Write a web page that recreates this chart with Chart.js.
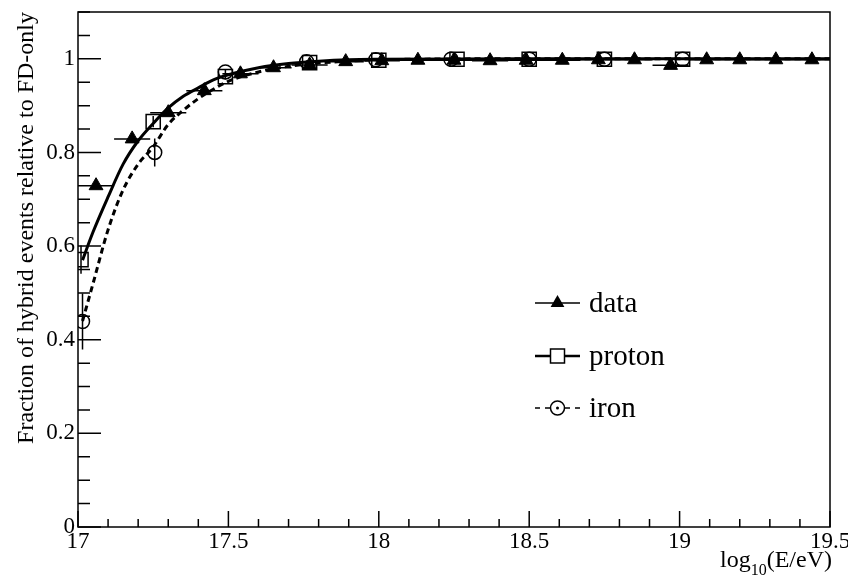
<!DOCTYPE html>
<html>
<head>
<meta charset="utf-8">
<script src="https://cdn.jsdelivr.net/npm/chart.js@4.4.1/dist/chart.umd.min.js"></script>
<style>
	html, body { margin: 0; padding: 0; background: #fff; }
	#wrap { width: 848px; height: 579px; }
</style>
</head>
<body>
<div id="wrap"><canvas id="effChart"></canvas></div>
<script>
// measured points
const dataX = [17.06, 17.18, 17.30, 17.42, 17.54, 17.65, 17.77, 17.89, 18.01, 18.13, 18.25,
	18.37, 18.49, 18.61, 18.73, 18.85, 18.97, 19.09, 19.20, 19.32, 19.44];
const dataY = [0.729, 0.829, 0.885, 0.932, 0.968, 0.981, 0.987, 0.994, 0.996, 0.997, 0.997,
	0.996, 0.997, 0.997, 0.998, 0.998, 0.986, 0.998, 0.998, 0.998, 0.998];
const dataXErr = [0.06, 0.06, 0.06, 0.06, 0.06, 0.06, 0.06, 0.06, 0.06, 0.06, 0.06,
	0.06, 0.06, 0.06, 0.06, 0.06, 0.06, 0.06, 0.06, 0.06, 0.06];

// simulation points
const protonX = [17.01, 17.25, 17.49, 17.77, 18.00, 18.26, 18.50, 18.75, 19.01];
const protonY = [0.571, 0.866, 0.962, 0.992, 0.997, 0.999, 0.999, 0.999, 0.999];
const protonYErr = [0.03, 0.012, 0.006, 0.003, 0.002, 0.001, 0.001, 0.001, 0.001];
const ironX = [17.015, 17.255, 17.49, 17.76, 17.99, 18.24, 18.50, 18.75, 19.01];
const ironY = [0.439, 0.800, 0.972, 0.994, 0.998, 0.999, 0.999, 0.999, 0.999];
const ironYErr = [0.06, 0.03, 0.006, 0.003, 0.002, 0.001, 0.001, 0.001, 0.001];

// fitted curves
const protonFitX = [17.015, 17.05, 17.1, 17.15, 17.2, 17.25, 17.3, 17.35, 17.4, 17.45, 17.5,
	17.6, 17.7, 17.8, 17.9, 18.0, 18.5, 19.0, 19.5];
const protonFitY = [0.57, 0.63, 0.705, 0.775, 0.825, 0.862, 0.895, 0.92, 0.938, 0.955, 0.966,
	0.981, 0.99, 0.995, 0.998, 0.999, 1.0, 1.0, 1.0];
const ironFitX = [17.015, 17.05, 17.1, 17.15, 17.2, 17.25, 17.3, 17.35, 17.4, 17.45, 17.5,
	17.6, 17.7, 17.8, 17.9, 18.0, 18.5, 19.0, 19.5];
const ironFitY = [0.44, 0.52, 0.635, 0.72, 0.775, 0.812, 0.86, 0.89, 0.915, 0.935, 0.952,
	0.972, 0.984, 0.991, 0.995, 0.998, 1.0, 1.0, 1.0];

const legendNames = ['data', 'proton', 'iron'];

const toPts = (xs, ys) => xs.map((x, i) => ({x: x, y: ys[i]}));
const serif = '"Liberation Serif", "DejaVu Serif", serif';

Chart.defaults.color = '#000';
Chart.defaults.font.family = serif;

// error bars, drawn under the markers
const errorBars = {
	id: 'errorBars',
	beforeDatasetsDraw(chart) {
		const ctx = chart.ctx;
		const xs = chart.scales.x, ys = chart.scales.y;
		ctx.save();
		ctx.strokeStyle = '#000';
		ctx.lineWidth = 1.5;
		ctx.beginPath();
		dataX.forEach((x, i) => {
			const py = ys.getPixelForValue(dataY[i]);
			ctx.moveTo(xs.getPixelForValue(x - dataXErr[i]), py);
			ctx.lineTo(xs.getPixelForValue(x + dataXErr[i]), py);
		});
		[[protonX, protonY, protonYErr], [ironX, ironY, ironYErr]].forEach(([X, Y, E]) => {
			X.forEach((x, i) => {
				const px = xs.getPixelForValue(x);
				ctx.moveTo(px, ys.getPixelForValue(Y[i] - E[i]));
				ctx.lineTo(px, ys.getPixelForValue(Y[i] + E[i]));
			});
		});
		ctx.stroke();
		ctx.restore();
	}
};

// frame, inward ticks, x title, legend
const frame = {
	id: 'frame',
	afterDraw(chart) {
		const ctx = chart.ctx;
		const a = chart.chartArea;
		const xs = chart.scales.x, ys = chart.scales.y;
		ctx.save();
		ctx.strokeStyle = '#000';
		ctx.lineWidth = 1.5;
		ctx.strokeRect(a.left, a.top, a.right - a.left, a.bottom - a.top);
		ctx.beginPath();
		for (let k = 0; k <= 25; k++) {
			const v = 17 + k * 0.1;
			const px = xs.getPixelForValue(v);
			const len = k % 5 === 0 ? 16 : 8;
			ctx.moveTo(px, a.bottom);
			ctx.lineTo(px, a.bottom - len);
		}
		for (let k = 0; k <= 22; k++) {
			const v = k * 0.05;
			const py = ys.getPixelForValue(v);
			const len = k % 4 === 0 ? 23 : 12;
			ctx.moveTo(a.left, py);
			ctx.lineTo(a.left + len, py);
		}
		ctx.stroke();

		// x title with subscript
		ctx.fillStyle = '#000';
		ctx.textBaseline = 'alphabetic';
		ctx.textAlign = 'left';
		const big = '24px ' + serif, small = '16px ' + serif;
		ctx.font = big;
		const w1 = ctx.measureText('log').width, w3 = ctx.measureText('(E/eV)').width;
		ctx.font = small;
		const w2 = ctx.measureText('10').width;
		let tx = a.right + 2 - (w1 + w2 + w3);
		const base = 567;
		ctx.font = big;
		ctx.fillText('log', tx, base);
		ctx.font = small;
		ctx.fillText('10', tx + w1, base + 8);
		ctx.font = big;
		ctx.fillText('(E/eV)', tx + w1 + w2, base);

		// legend
		const rows = [303, 356, 408];
		const x0 = 535, x1 = 580, xm = 557.5;
		ctx.font = '29px ' + serif;
		ctx.textBaseline = 'middle';
		rows.forEach((ry, i) => {
			ctx.beginPath();
			ctx.lineWidth = i === 1 ? 2.5 : 1.5;
			ctx.setLineDash(i === 2 ? [5, 5] : []);
			ctx.moveTo(x0, ry);
			ctx.lineTo(x1, ry);
			ctx.stroke();
			ctx.setLineDash([]);
			ctx.lineWidth = 1.5;
			if (i === 0) {
				ctx.beginPath();
				ctx.moveTo(xm, ry - 8);
				ctx.lineTo(xm + 6.9, ry + 4);
				ctx.lineTo(xm - 6.9, ry + 4);
				ctx.closePath();
				ctx.fill();
			} else if (i === 1) {
				ctx.fillStyle = '#fff';
				ctx.fillRect(xm - 7, ry - 7, 14, 14);
				ctx.strokeRect(xm - 7, ry - 7, 14, 14);
			} else {
				ctx.fillStyle = '#fff';
				ctx.beginPath();
				ctx.arc(xm, ry, 7, 0, Math.PI * 2);
				ctx.fill();
				ctx.stroke();
				ctx.fillStyle = '#000';
				ctx.beginPath();
				ctx.arc(xm, ry, 1.5, 0, Math.PI * 2);
				ctx.fill();
			}
			ctx.fillStyle = '#000';
			ctx.fillText(legendNames[i], 589, ry + 1);
		});
		ctx.restore();
	}
};

const config = {
	type: 'scatter',
	data: {
		datasets: [
			{
				label: legendNames[0],
				data: toPts(dataX, dataY),
				pointStyle: 'triangle',
				pointRadius: 8,
				backgroundColor: '#000',
				borderColor: '#000',
				borderWidth: 1,
				order: 0,
			},
			{
				label: legendNames[1],
				data: toPts(protonX, protonY),
				pointStyle: 'rect',
				pointRadius: 10,
				backgroundColor: 'rgba(0,0,0,0)',
				borderColor: '#000',
				borderWidth: 1.5,
				order: 1,
			},
			{
				label: legendNames[2],
				data: toPts(ironX, ironY),
				pointStyle: 'circle',
				pointRadius: 7,
				backgroundColor: 'rgba(0,0,0,0)',
				borderColor: '#000',
				borderWidth: 1.5,
				order: 2,
			},
			{
				type: 'line',
				label: 'proton fit',
				data: toPts(protonFitX, protonFitY),
				showLine: true,
				pointRadius: 0,
				borderColor: '#000',
				borderWidth: 3,
				cubicInterpolationMode: 'monotone',
				fill: false,
				order: 3,
			},
			{
				type: 'line',
				label: 'iron fit',
				data: toPts(ironFitX, ironFitY),
				showLine: true,
				pointRadius: 0,
				borderColor: '#000',
				borderWidth: 3,
				borderDash: [6, 4],
				cubicInterpolationMode: 'monotone',
				fill: false,
				order: 4,
			},
		],
	},
	options: {
		responsive: true,
		maintainAspectRatio: false,
		animation: false,
		layout: { padding: { left: 0, right: 18, top: 12, bottom: 0 } },
		plugins: {
			legend: { display: false },
			tooltip: { enabled: false },
		},
		scales: {
			x: {
				type: 'linear',
				min: 17,
				max: 19.5,
				grid: { display: false, drawTicks: false },
				border: { display: false },
				ticks: {
					stepSize: 0.1,
					autoSkip: false,
					maxRotation: 0,
					padding: 1,
					font: { size: 23, family: serif },
					callback: (v) => Math.abs(v * 2 - Math.round(v * 2)) < 1e-6 ? String(Math.round(v * 10) / 10) : '',
				},
				afterFit: (s) => { s.height = 52; s.paddingLeft = 0; s.paddingRight = 0; },
			},
			y: {
				min: 0,
				max: 1.1,
				grid: { display: false, drawTicks: false },
				border: { display: false },
				ticks: {
					stepSize: 0.05,
					autoSkip: false,
					padding: 3,
					font: { size: 23, family: serif },
					callback: (v) => {
						const r = Math.round(v * 10) / 10;
						return (Math.abs(v - r) < 1e-6 && Math.round(r * 10) % 2 === 0 && r <= 1) ? String(r) : '';
					},
				},
				title: {
					display: true,
					text: 'Fraction of hybrid events relative to FD-only',
					align: 'end',
					font: { size: 24, family: serif },
					padding: { top: 12, bottom: 0 },
				},
				afterFit: (s) => { s.width = 78; s.paddingTop = 0; s.paddingBottom = 0; },
			},
		},
	},
	plugins: [errorBars, frame],
};

const effChart = new Chart(document.getElementById('effChart'), config);
</script>
</body>
</html>
